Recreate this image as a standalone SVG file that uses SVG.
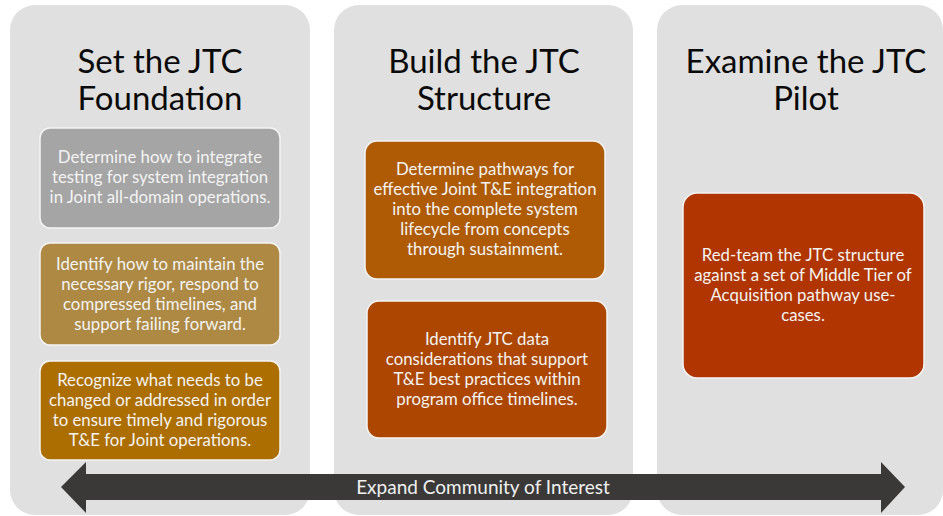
<svg xmlns="http://www.w3.org/2000/svg" width="943" height="516" viewBox="0 0 943 516">
<style>
.panel{fill:#e0e0e0}
.title{font-family:Lato,"Open Sans","Liberation Sans",sans-serif;font-size:33px;fill:#0a0a0a;text-anchor:middle}
.box{stroke:#f4f4f4;stroke-width:1.5}
.bt{font-family:Lato,"Open Sans","Liberation Sans",sans-serif;font-size:16.8px;fill:#f3f3f3;text-anchor:middle}
.arrowtxt{font-family:Lato,"Open Sans","Liberation Sans",sans-serif;font-size:19px;fill:#f0f0f0;text-anchor:middle}
</style>
<rect width="943" height="516" fill="#ffffff"/>
<g id="panel-foundation">
<rect class="panel" x="10" y="5" width="300" height="510" rx="25"/>
<text class="title" x="160" y="73">Set the JTC</text>
<text class="title" x="160" y="110">Foundation</text>
</g>
<g id="panel-structure">
<rect class="panel" x="334" y="5" width="299" height="510" rx="25"/>
<text class="title" x="484" y="73">Build the JTC</text>
<text class="title" x="484" y="110">Structure</text>
</g>
<g id="panel-pilot">
<rect class="panel" x="657" y="5" width="286" height="510" rx="25"/>
<text class="title" x="806" y="73">Examine the JTC</text>
<text class="title" x="806" y="110">Pilot</text>
</g>
<g id="box-integrate">
<rect class="box" x="40" y="128" width="240" height="100" rx="10" fill="#a5a5a5"/>
<text class="bt" x="160" y="163">Determine how to integrate</text>
<text class="bt" x="160" y="183">testing for system integration</text>
<text class="bt" x="160" y="203">in Joint all-domain operations.</text>
</g>
<g id="box-rigor">
<rect class="box" x="40" y="243" width="240" height="102" rx="10" fill="#ad8944"/>
<text class="bt" x="160" y="270">Identify how to maintain the</text>
<text class="bt" x="160" y="290">necessary rigor, respond to</text>
<text class="bt" x="160" y="310">compressed timelines, and</text>
<text class="bt" x="160" y="330">support failing forward.</text>
</g>
<g id="box-recognize">
<rect class="box" x="40" y="361" width="240" height="99" rx="10" fill="#ad6e00"/>
<text class="bt" x="160" y="386">Recognize what needs to be</text>
<text class="bt" x="160" y="406">changed or addressed in order</text>
<text class="bt" x="160" y="426">to ensure timely and rigorous</text>
<text class="bt" x="160" y="446">T&amp;E for Joint operations.</text>
</g>
<g id="box-pathways">
<rect class="box" x="365" y="141" width="240" height="138" rx="12" fill="#af5b06"/>
<text class="bt" x="485" y="175">Determine pathways for</text>
<text class="bt" x="485" y="195">effective Joint T&amp;E integration</text>
<text class="bt" x="485" y="215">into the complete system</text>
<text class="bt" x="485" y="235">lifecycle from concepts</text>
<text class="bt" x="485" y="255">through sustainment.</text>
</g>
<g id="box-data">
<rect class="box" x="367" y="301" width="240" height="137" rx="12" fill="#ad4600"/>
<text class="bt" x="487" y="345">Identify JTC data</text>
<text class="bt" x="487" y="365">considerations that support</text>
<text class="bt" x="487" y="385">T&amp;E best practices within</text>
<text class="bt" x="487" y="405">program office timelines.</text>
</g>
<g id="box-redteam">
<rect class="box" x="683" y="193" width="241" height="185" rx="14" fill="#b03500"/>
<text class="bt" x="803" y="261">Red-team the JTC structure</text>
<text class="bt" x="803" y="281">against a set of Middle Tier of</text>
<text class="bt" x="803" y="301">Acquisition pathway use-</text>
<text class="bt" x="803" y="321">cases.</text>
</g>
<g id="connectors">
<polygon id="arrow-community" points="61,487 86,462 86,474 881,474 881,462 905,487 881,513 881,500 86,500 86,513" fill="#3a3938"/>
<text class="arrowtxt" x="483" y="494">Expand Community of Interest</text>
</g>
</svg>
